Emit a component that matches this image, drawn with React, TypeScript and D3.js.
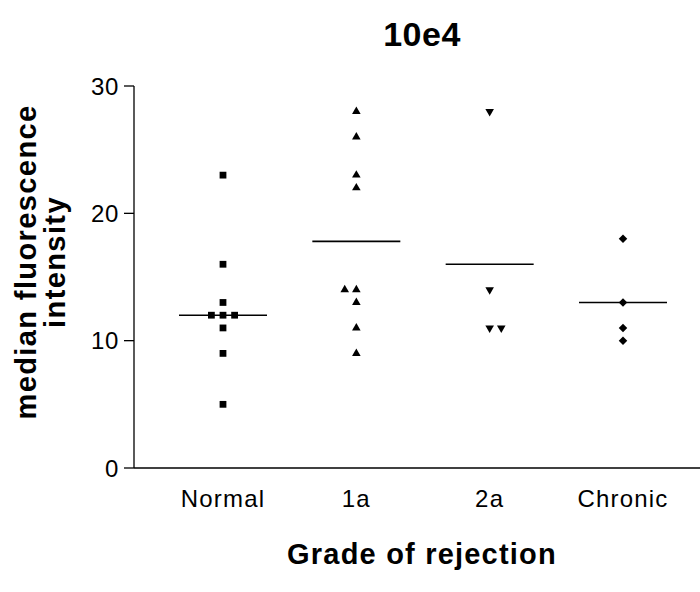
import React from "react";
import * as d3 from "d3";

const categories = ["Normal", "1a", "2a", "Chronic"];
const normalValues = [23, 16, 13, 12, 12, 12, 11, 9, 5];
const grade1aValues = [28, 26, 23, 22, 14, 14, 13, 11, 9];
const grade2aValues = [28, 14, 11, 11];
const chronicValues = [18, 13, 11, 10];
const centerLines = [12, 17.8, 16, 13];
const yTicks = [0, 10, 20, 30];

const groups = [normalValues, grade1aValues, grade2aValues, chronicValues];
// which side a second duplicate lands on, as in the picture
const dupSide = [-1, -1, 1, -1];

const W = 700;
const H = 592;
const font = "'Liberation Sans', Arial, Helvetica, sans-serif";

const x = d3.scalePoint<string>().domain(categories).range([223, 623]);
const y = d3.scaleLinear().domain([0, 30]).range([468, 86]);

const shapes = [
  { type: d3.symbolSquare, size: 46, rotate: 0 },
  { type: d3.symbolTriangle, size: 32, rotate: 0 },
  { type: d3.symbolTriangle, size: 32, rotate: 180 },
  { type: d3.symbolSquare, size: 36, rotate: 45 },
];

const jitterStep = 11.6;

const layoutGroup = (values: number[], gi: number) => {
  const seen = new Map<number, number>();
  return values.map((v) => {
    const k = seen.get(v) || 0;
    seen.set(v, k + 1);
    let slot = 0;
    if (k === 1) slot = dupSide[gi];
    if (k === 2) slot = -dupSide[gi];
    return { v, dx: slot * jitterStep };
  });
};

const App = () => {
  const x0 = 134;
  const lineHalf = 44;

  return (
    <div style={{ position: "fixed", left: 0, top: 0 }}>
      <svg width={W} height={H} style={{ display: "block", background: "#fff" }}>
        <text
          x={422}
          y={46}
          textAnchor="middle"
          fontFamily={font}
          fontWeight="bold"
          fontSize={34}
          letterSpacing={0.5}
        >
          10e4
        </text>

        {/* y axis */}
        <line x1={x0} x2={x0} y1={y(30)} y2={y(0)} stroke="#000" strokeWidth={1.3} />
        {yTicks.map((t) => (
          <g key={t} transform={`translate(0,${y(t)})`}>
            <line x1={x0 - 10} x2={x0} stroke="#000" strokeWidth={1.3} />
            <text
              x={119}
              dy="0.36em"
              textAnchor="end"
              fontFamily={font}
              fontSize={24}
              letterSpacing={0.6}
            >
              {t}
            </text>
          </g>
        ))}

        {/* x axis */}
        <line x1={x0} x2={W} y1={y(0)} y2={y(0)} stroke="#000" strokeWidth={1.3} />
        {categories.map((c) => (
          <text
            key={c}
            x={x(c)}
            y={507}
            textAnchor="middle"
            fontFamily={font}
            fontSize={24}
            letterSpacing={1.2}
          >
            {c}
          </text>
        ))}

        <text
          x={422}
          y={564}
          textAnchor="middle"
          fontFamily={font}
          fontWeight="bold"
          fontSize={29}
          letterSpacing={1.2}
        >
          Grade of rejection
        </text>

        <g transform="translate(36,262) rotate(-90)">
          <text textAnchor="middle" fontFamily={font} fontWeight="bold" fontSize={29} letterSpacing={1.4}>
            median fluorescence
          </text>
          <text y={29} textAnchor="middle" fontFamily={font} fontWeight="bold" fontSize={29} letterSpacing={1.4}>
            intensity
          </text>
        </g>

        {/* mean lines */}
        {categories.map((c, i) => (
          <line
            key={c}
            x1={(x(c) as number) - lineHalf}
            x2={(x(c) as number) + lineHalf}
            y1={y(centerLines[i])}
            y2={y(centerLines[i])}
            stroke="#000"
            strokeWidth={1.6}
          />
        ))}

        {/* points */}
        {groups.map((vals, gi) => {
          const s = shapes[gi];
          const path = d3.symbol().type(s.type).size(s.size)() as string;
          return (
            <g key={gi}>
              {layoutGroup(vals, gi).map((p, j) => (
                <path
                  key={j}
                  d={path}
                  fill="#000"
                  transform={`translate(${(x(categories[gi]) as number) + p.dx},${y(p.v)}) rotate(${s.rotate})`}
                />
              ))}
            </g>
          );
        })}
      </svg>
    </div>
  );
};

export default App;
